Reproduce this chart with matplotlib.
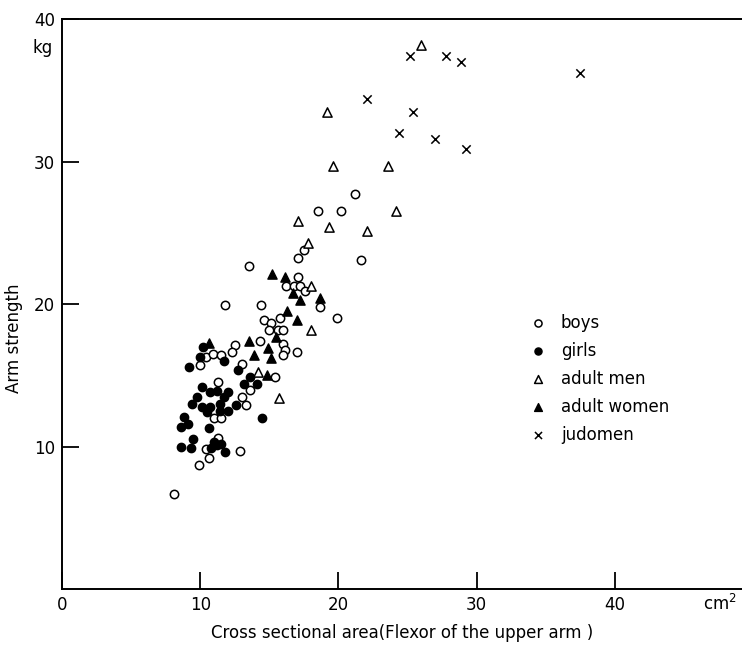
import matplotlib
matplotlib.use("Agg")
import matplotlib.pyplot as plt

# boys (open circles)
boys_x = [11.8, 14.4, 13.5, 17.1, 17.5, 18.5, 20.2, 21.2, 21.6, 17.1, 16.2, 16.8,
          17.2, 17.6, 18.7, 19.9, 14.6, 15.1, 15.8, 15.0, 15.6, 16.0, 14.3, 16.0,
          16.1, 16.0, 17.0, 12.5, 12.3, 10.4, 10.9, 11.5, 10.0, 13.0, 15.4, 11.3,
          13.6, 13.0, 13.3, 11.0, 11.5, 11.3, 10.4, 10.6, 12.9, 9.9, 8.1]
boys_y = [19.9, 19.9, 22.7, 23.2, 23.8, 26.5, 26.5, 27.7, 23.1, 21.9, 21.3, 21.3,
          21.3, 20.9, 19.8, 19.0, 18.9, 18.7, 19.0, 18.2, 18.2, 18.2, 17.4, 17.2,
          16.8, 16.4, 16.6, 17.1, 16.6, 16.3, 16.5, 16.4, 15.7, 15.8, 14.9, 14.5,
          14.0, 13.5, 12.9, 12.0, 12.0, 10.6, 9.8, 9.2, 9.7, 8.7, 6.7]

# girls (filled circles)
girls_x = [10.2, 10.0, 11.7, 9.2, 12.7, 13.6, 10.1, 13.2, 14.1, 10.7, 11.2, 12.0,
           11.7, 9.8, 9.4, 10.1, 10.7, 11.4, 11.4, 12.0, 10.5, 12.6, 8.8, 9.1,
           8.6, 14.5, 10.6, 9.5, 11.0, 11.5, 11.2, 8.6, 9.3, 10.8, 11.8]
girls_y = [17.0, 16.3, 16.0, 15.6, 15.4, 14.9, 14.2, 14.4, 14.4, 13.8, 13.9, 13.8,
           13.5, 13.5, 13.0, 12.8, 12.8, 13.0, 12.5, 12.5, 12.4, 12.9, 12.1, 11.6,
           11.4, 12.0, 11.3, 10.5, 10.3, 10.2, 10.1, 10.0, 9.9, 9.9, 9.6]

# adult men (open triangles)
men_x = [26.0, 19.2, 19.6, 23.6, 24.2, 17.1, 19.3, 22.1, 17.8, 18.0, 18.0, 14.2, 15.7]
men_y = [38.2, 33.5, 29.7, 29.7, 26.5, 25.8, 25.4, 25.1, 24.3, 21.3, 18.2, 15.2, 13.4]

# adult women (filled triangles)
women_x = [15.2, 16.1, 16.7, 17.2, 18.7, 16.3, 17.0, 15.5, 14.9, 15.1, 13.9, 13.5, 10.6, 14.8]
women_y = [22.1, 21.9, 20.8, 20.3, 20.4, 19.5, 18.9, 17.7, 16.9, 16.2, 16.4, 17.4, 17.3, 15.0]

# judomen (crosses)
judo_x = [25.2, 27.8, 28.9, 37.5, 22.1, 25.4, 24.4, 27.0, 29.2]
judo_y = [37.4, 37.4, 37.0, 36.2, 34.4, 33.5, 32.0, 31.6, 30.9]

fig = plt.figure(figsize=(7.42, 6.47), dpi=100)
ax = fig.add_axes([0.0836, 0.0896, 0.9164, 0.881])

ms = 36
ax.scatter(boys_x, boys_y, s=ms, facecolors='white', edgecolors='black', linewidths=1.1, label='boys')
ax.scatter(girls_x, girls_y, s=ms, color='black', label='girls')
ax.scatter(men_x, men_y, s=44, marker='^', facecolors='white', edgecolors='black', linewidths=1.1, label='adult men')
ax.scatter(women_x, women_y, s=44, marker='^', color='black', label='adult women')
ax.scatter(judo_x, judo_y, s=36, marker='x', color='black', linewidths=1.1, label='judomen')

ax.set_xlim(0, 49.2)
ax.set_ylim(0, 40)
ax.set_xticks([0, 10, 20, 30, 40])
ax.set_yticks([10, 20, 30, 40])

ax.spines['right'].set_visible(False)
for s in ['left', 'bottom', 'top']:
    ax.spines[s].set_linewidth(1.4)
ax.tick_params(axis='both', direction='in', length=12, width=1.3, labelsize=12, pad=5)

ax.text(-0.028, 38.0, 'kg', transform=ax.get_yaxis_transform(), ha='center', va='center', fontsize=12)
ax.text(47.6, -1.05, 'cm$^2$', ha='center', va='center', fontsize=12, clip_on=False)

ax.set_xlabel('Cross sectional area(Flexor of the upper arm )', fontsize=12, labelpad=7)
ax.set_ylabel('Arm strength', fontsize=12)
ax.yaxis.set_label_coords(-0.058, 0.44)

ax.legend(loc='upper left', bbox_to_anchor=(0.665, 0.495), frameon=False, fontsize=12,
          labelspacing=0.6, handletextpad=0.4, borderaxespad=0, markerscale=0.85)

fig.savefig('out.png', dpi=100)
